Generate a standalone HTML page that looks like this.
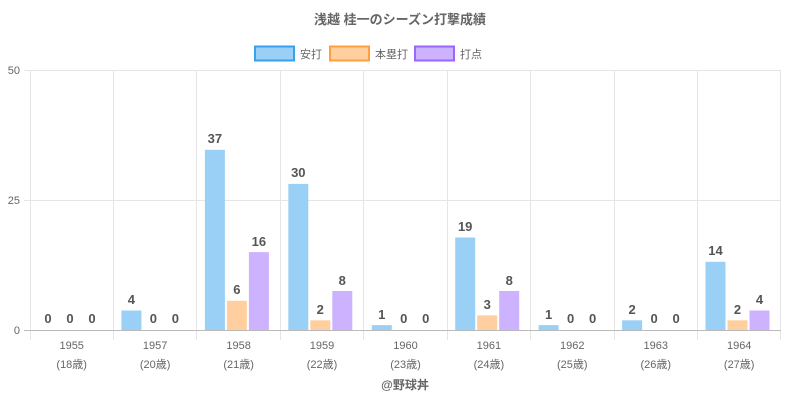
<!DOCTYPE html>
<html><head><meta charset="utf-8"><style>
body{margin:0;background:#fff}
svg{display:block;font-family:"Liberation Sans","Noto Sans CJK JP",sans-serif}
</style></head><body>
<svg width="800" height="400" viewBox="0 0 800 400">
<text x="400" y="24" text-anchor="middle" font-size="13" font-weight="bold" fill="#666">浅越 桂一のシーズン打撃成績</text>
<g font-size="11" fill="#666">
<rect x="255" y="46.5" width="39" height="14" fill="#9ad0f5" stroke="#36a2eb" stroke-width="2"/><text x="300" y="58">安打</text>
<rect x="330" y="46.5" width="39" height="14" fill="#ffcf9f" stroke="#ff9f40" stroke-width="2"/><text x="375" y="58">本塁打</text>
<rect x="415" y="46.5" width="39" height="14" fill="#ccb2ff" stroke="#9966ff" stroke-width="2"/><text x="460" y="58">打点</text>
</g>
<g stroke="#e5e5e5" stroke-width="1">
<line x1="24" y1="70.5" x2="781" y2="70.5"/><line x1="24" y1="200.5" x2="781" y2="200.5"/>
<line x1="30.5" y1="70" x2="30.5" y2="340"/><line x1="113.5" y1="70" x2="113.5" y2="340"/><line x1="196.5" y1="70" x2="196.5" y2="340"/><line x1="280.5" y1="70" x2="280.5" y2="340"/><line x1="363.5" y1="70" x2="363.5" y2="340"/><line x1="447.5" y1="70" x2="447.5" y2="340"/><line x1="530.5" y1="70" x2="530.5" y2="340"/><line x1="614.5" y1="70" x2="614.5" y2="340"/><line x1="697.5" y1="70" x2="697.5" y2="340"/><line x1="780.5" y1="70" x2="780.5" y2="340"/>
</g>
<g font-size="11" fill="#666" text-anchor="end"><text x="20" y="74">50</text><text x="20" y="204">25</text><text x="20" y="334">0</text></g>
<g fill="#9ad0f5" stroke="#fff" stroke-width="0">
<rect x="121.4" y="310.5" width="20" height="19.5"/>
<rect x="204.9" y="149.8" width="20" height="180.2"/>
<rect x="288.3" y="183.9" width="20" height="146.1"/>
<rect x="371.8" y="325.1" width="20" height="4.9"/>
<rect x="455.2" y="237.5" width="20" height="92.5"/>
<rect x="538.6" y="325.1" width="20" height="4.9"/>
<rect x="622.1" y="320.3" width="20" height="9.7"/>
<rect x="705.5" y="261.8" width="20" height="68.2"/>
</g>
<g fill="#ffcf9f">
<rect x="226.9" y="300.8" width="20" height="29.2"/>
<rect x="310.3" y="320.3" width="20" height="9.7"/>
<rect x="477.2" y="315.4" width="20" height="14.6"/>
<rect x="727.5" y="320.3" width="20" height="9.7"/>
</g>
<g fill="#ccb2ff">
<rect x="248.9" y="252.1" width="20" height="77.9"/>
<rect x="332.3" y="291" width="20" height="39"/>
<rect x="499.2" y="291" width="20" height="39"/>
<rect x="749.5" y="310.5" width="20" height="19.5"/>
</g>
<line x1="24" y1="330.5" x2="781" y2="330.5" stroke="#bbb" stroke-width="1"/>
<g font-size="13" font-weight="bold" fill="#555" text-anchor="middle">
<text x="48" y="323">0</text><text x="70" y="323">0</text><text x="92" y="323">0</text>
<text x="131.4" y="304">4</text><text x="153.4" y="323">0</text><text x="175.4" y="323">0</text>
<text x="214.9" y="143">37</text><text x="236.9" y="294">6</text><text x="258.9" y="246">16</text>
<text x="298.3" y="177">30</text><text x="320.3" y="314">2</text><text x="342.3" y="285">8</text>
<text x="381.8" y="319">1</text><text x="403.8" y="323">0</text><text x="425.8" y="323">0</text>
<text x="465.2" y="231">19</text><text x="487.2" y="309">3</text><text x="509.2" y="285">8</text>
<text x="548.6" y="319">1</text><text x="570.6" y="323">0</text><text x="592.6" y="323">0</text>
<text x="632.1" y="314">2</text><text x="654.1" y="323">0</text><text x="676.1" y="323">0</text>
<text x="715.5" y="255">14</text><text x="737.5" y="314">2</text><text x="759.5" y="304">4</text>
</g>
<g font-size="11" fill="#666" text-anchor="middle">
<text x="71.7" y="349">1955</text><text x="71.7" y="368">(18歳)</text>
<text x="155.1" y="349">1957</text><text x="155.1" y="368">(20歳)</text>
<text x="238.6" y="349">1958</text><text x="238.6" y="368">(21歳)</text>
<text x="322" y="349">1959</text><text x="322" y="368">(22歳)</text>
<text x="405.5" y="349">1960</text><text x="405.5" y="368">(23歳)</text>
<text x="488.9" y="349">1961</text><text x="488.9" y="368">(24歳)</text>
<text x="572.3" y="349">1962</text><text x="572.3" y="368">(25歳)</text>
<text x="655.8" y="349">1963</text><text x="655.8" y="368">(26歳)</text>
<text x="739.2" y="349">1964</text><text x="739.2" y="368">(27歳)</text>
</g>
<text x="405" y="389" text-anchor="middle" font-size="12" font-weight="bold" fill="#666">@野球丼</text>
</svg>
</body></html>
